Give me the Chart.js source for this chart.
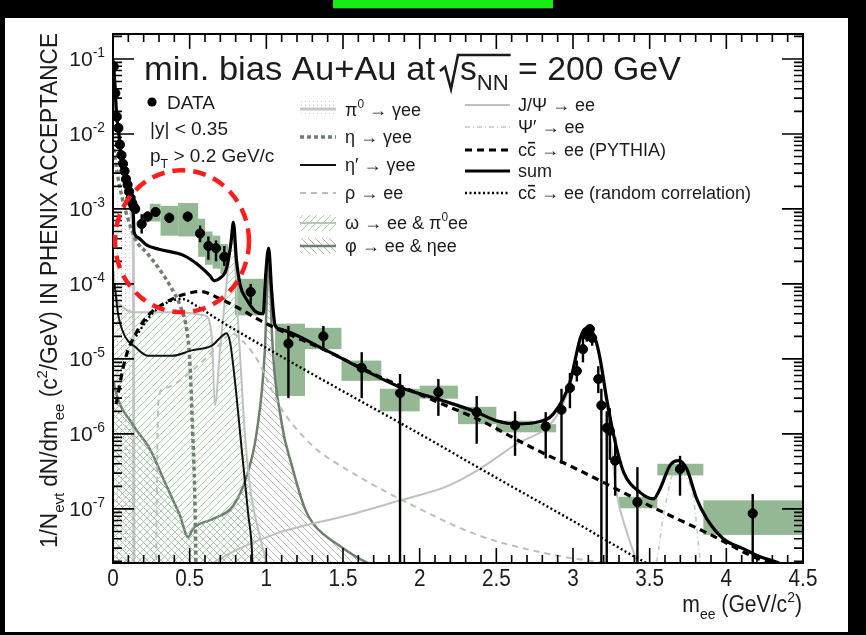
<!DOCTYPE html>
<html>
<head>
<meta charset="utf-8">
<script src="https://cdn.jsdelivr.net/npm/chart.js@4.4.0/dist/chart.umd.min.js"></script>
<style>
	html, body { margin: 0; padding: 0; background: #000; }
	#wrap { position: relative; width: 866px; height: 635px; }
	#topbar { position: absolute; left: 333px; top: 0; width: 220px; height: 8px; background: #14ee14; border-bottom: 1px solid #333; }
</style>
</head>
<body>
<div id="wrap">
	<canvas id="dilepton" width="866" height="635"></canvas>
	<div id="topbar"></div>
</div>
<script>
// measured pairs, mass in GeV/c^2, yield in 1/Nevt dN/dm
const dataMass = [0.005, 0.015, 0.025, 0.035, 0.045, 0.055, 0.065, 0.075, 0.085, 0.095, 0.105, 0.115, 0.125, 0.135, 0.145,
	0.187, 0.226, 0.278, 0.367, 0.487, 0.568, 0.622, 0.672, 0.726, 0.898, 1.144, 1.372, 1.622, 1.872, 2.122, 2.372, 2.622,
	2.822, 2.925, 2.98, 3.025, 3.065, 3.09, 3.11, 3.125, 3.165, 3.185, 3.22, 3.24, 3.275, 3.42, 3.698, 4.172];
const dataYield = [7.9e-2, 3.5e-2, 1.7e-2, 1.2e-2, 7.2e-3, 5.2e-3, 4.0e-3, 3.2e-3, 2.5e-3, 2.1e-3, 1.7e-3, 1.4e-3, 1.2e-3, 1.07e-3, 1.0e-3,
	6.3e-4, 7.9e-4, 9.1e-4, 7.6e-4, 7.9e-4, 4.7e-4, 3.2e-4, 3.0e-4, 2.3e-4, 7.8e-5, 1.6e-5, 2.0e-5, 7.6e-6, 3.5e-6, 3.6e-6, 1.95e-6, 1.3e-6,
	1.26e-6, 2.1e-6, 4.1e-6, 6.9e-6, 1.35e-5, 2.1e-5, 2.5e-5, 1.9e-5, 5.4e-6, 2.4e-6, 1.2e-6, 1.1e-6, 4.4e-7, 1.23e-7, 3.4e-7, 8.7e-8];
const dataErrLow = [7.4e-2, 3.3e-2, 1.6e-2, 1.13e-2, 6.8e-3, 4.9e-3, 3.75e-3, 3.0e-3, 2.35e-3, 1.97e-3, 1.6e-3, 1.31e-3, 1.12e-3, 1.0e-3, 9.3e-4,
	4.7e-4, 6.8e-4, 8.2e-4, 6.5e-4, 6.8e-4, 3.6e-4, 2.1e-4, 2.0e-4, 1.74e-4, 5.4e-5, 3.0e-6, 1.3e-5, 3.0e-6, 1e-9, 1.74e-6, 7.4e-7, 5.1e-7,
	4.7e-7, 4.0e-7, 2.2e-6, 5.0e-6, 9.0e-6, 1.7e-5, 2.1e-5, 1.5e-5, 3.5e-6, 1e-9, 1e-9, 4.5e-7, 1.5e-7, 1e-9, 1.5e-7, 1e-9];
const dataErrHigh = [8.4e-2, 3.7e-2, 1.8e-2, 1.27e-2, 7.6e-3, 5.5e-3, 4.25e-3, 3.4e-3, 2.65e-3, 2.23e-3, 1.8e-3, 1.49e-3, 1.28e-3, 1.14e-3, 1.07e-3,
	8.5e-4, 9.3e-4, 1.0e-3, 8.9e-4, 9.2e-4, 6.0e-4, 4.3e-4, 3.8e-4, 3.2e-4, 1.0e-4, 2.75e-5, 2.75e-5, 1.23e-5, 6.3e-6, 5.4e-6, 3.2e-6, 2.0e-6,
	1.95e-6, 4.0e-6, 6.5e-6, 9.5e-6, 2.0e-5, 2.6e-5, 2.9e-5, 2.3e-5, 8.0e-6, 4.0e-6, 2.0e-6, 2.2e-6, 9.0e-7, 3.6e-7, 5.1e-7, 1.58e-7];

// systematic uncertainty boxes
const sysMassLow = [0.24, 0.31, 0.425, 0.555, 0.6, 0.65, 0.7, 0.795, 1.057, 1.252, 1.49, 1.74, 2.0, 2.25, 2.5, 2.74, 3.3, 3.55, 3.85];
const sysMassHigh = [0.31, 0.425, 0.555, 0.6, 0.65, 0.7, 0.75, 0.98, 1.252, 1.49, 1.75, 2.0, 2.25, 2.5, 2.74, 2.89, 3.55, 3.85, 4.5];
const sysYieldLow = [6.8e-4, 4.4e-4, 4.3e-4, 2.3e-4, 1.8e-4, 1.6e-4, 1.35e-4, 3.8e-5, 3.2e-6, 1.35e-5, 5.1e-6, 2.0e-6, 2.95e-6, 1.35e-6, 1.05e-6, 1.05e-6, 1.02e-7, 2.8e-7, 4.5e-8];
const sysYieldHigh = [1.17e-3, 1.1e-3, 1.2e-3, 7.4e-4, 5.0e-4, 4.4e-4, 3.4e-4, 1.17e-4, 2.95e-5, 2.6e-5, 9.5e-6, 4.0e-6, 4.4e-6, 2.3e-6, 1.5e-6, 1.35e-6, 1.45e-7, 4.0e-7, 1.3e-7];

// cocktail and charm curves
const pi0Mass = [0.002, 0.01, 0.02, 0.04, 0.06, 0.08, 0.1, 0.115, 0.125, 0.131, 0.134, 0.137];
const pi0Yield = [8.9e-2, 5.0e-2, 2.2e-2, 7.9e-3, 4.0e-3, 2.2e-3, 1.4e-3, 1.0e-3, 7.0e-4, 4.0e-4, 5.0e-5, 1e-9];
const etaMass = [0.005, 0.03, 0.06, 0.1, 0.15, 0.22, 0.3, 0.38, 0.44, 0.48, 0.5, 0.52, 0.535, 0.548];
const etaYield = [6.3e-3, 2.8e-3, 1.4e-3, 7.1e-4, 3.8e-4, 2.6e-4, 1.6e-4, 8.9e-5, 5.0e-5, 2.5e-5, 1.0e-5, 1.0e-6, 1.0e-7, 1e-9];
const etaPrimeMass = [0.01, 0.035, 0.078, 0.144, 0.23, 0.383, 0.513, 0.644, 0.709, 0.74, 0.765, 0.796, 0.839, 0.883, 0.905, 0.93];
const etaPrimeYield = [1.0e-4, 3.8e-5, 2.0e-5, 1.45e-5, 1.1e-5, 1.1e-5, 1.3e-5, 1.5e-5, 2.0e-5, 2.2e-5, 1.6e-5, 4.9e-6, 6.3e-7, 8.1e-8, 3.0e-8, 1e-9];
const rhoMass = [0.28, 0.285, 0.3, 0.33, 0.45, 0.6, 0.7, 0.77, 0.85, 0.95, 1.02, 1.09, 1.3, 1.52, 1.96, 2.39, 2.89, 3.3];
const rhoYield = [1e-9, 1.0e-7, 3.2e-6, 4.0e-6, 5.4e-6, 1.0e-5, 1.6e-5, 2.2e-5, 1.7e-5, 9.0e-6, 4.5e-6, 2.3e-6, 7.0e-7, 3.4e-7, 1.1e-7, 4.4e-8, 2.4e-8, 1.8e-8];
const omegaMass = [0.005, 0.013, 0.06, 0.144, 0.383, 0.6, 0.644, 0.665, 0.698, 0.752, 0.782, 0.807, 0.83, 0.86, 0.9, 0.95, 1.0];
const omegaYield = [1.5e-4, 8.5e-5, 5.0e-5, 4.2e-5, 4.2e-5, 3.8e-5, 2.0e-5, 2.4e-6, 1.35e-5, 1.74e-4, 5.6e-4, 6.3e-5, 1.0e-5, 1.0e-6, 1.6e-7, 5.0e-8, 1.95e-8];
const phiMass = [0.005, 0.013, 0.133, 0.24, 0.35, 0.437, 0.49, 0.52, 0.654, 0.784, 0.872, 0.937, 0.99, 1.005, 1.019, 1.035, 1.1, 1.166, 1.252, 1.307, 1.48, 1.65, 1.8];
const phiYield = [5.0e-6, 4.0e-6, 1.3e-6, 6.3e-7, 2.0e-7, 8.1e-8, 4.2e-8, 5.4e-8, 7.4e-8, 1.1e-7, 2.75e-7, 1.05e-6, 1.26e-5, 7.9e-5, 2.5e-4, 2.5e-5, 1.4e-6, 3.8e-7, 1.0e-7, 6.3e-8, 3.2e-8, 1.95e-8, 1.5e-8];
const jpsiMass = [0.65, 0.8, 1.09, 1.25, 1.52, 1.872, 2.177, 2.39, 2.61, 2.894, 2.98, 3.046, 3.1, 3.15, 3.2, 3.24, 3.285, 3.35, 3.42];
const jpsiYield = [1.9e-8, 2.8e-8, 4.9e-8, 6.0e-8, 8.1e-8, 1.3e-7, 2.0e-7, 3.4e-7, 6.9e-7, 1.74e-6, 4.5e-6, 1.66e-5, 2.5e-5, 1.6e-5, 5.0e-6, 1.0e-6, 1.6e-7, 5.0e-8, 1.9e-8];
const psiPrimeMass = [3.546, 3.59, 3.64, 3.677, 3.72, 3.786, 3.83];
const psiPrimeYield = [1.95e-8, 8.1e-8, 2.5e-7, 3.8e-7, 3.0e-7, 1.35e-7, 1.95e-8];
const charmMass = [0.02, 0.08, 0.15, 0.23, 0.3, 0.45, 0.57, 0.7, 0.8, 1.0, 1.4, 1.7, 2.1, 2.4, 2.7, 3.05, 3.5, 3.9, 4.2, 4.3];
const charmYield = [2.5e-6, 1.0e-5, 2.2e-5, 3.8e-5, 5.0e-5, 7.1e-5, 7.9e-5, 6.3e-5, 5.0e-5, 2.95e-5, 1.26e-5, 6.3e-6, 2.75e-6, 1.5e-6, 7.1e-7, 3.2e-7, 1.1e-7, 4.5e-8, 2.2e-8, 1.9e-8];
const charmRandomMass = [0.15, 0.25, 0.35, 0.45, 0.55, 0.7, 1.0, 1.5, 2.0, 2.5, 3.0, 3.42, 3.48];
const charmRandomYield = [2.0e-5, 3.9e-5, 5.6e-5, 6.3e-5, 5.0e-5, 3.2e-5, 1.4e-5, 3.7e-6, 1.0e-6, 2.6e-7, 6.9e-8, 2.2e-8, 1.9e-8];
const sumMass = [0.002, 0.013, 0.024, 0.035, 0.046, 0.067, 0.089, 0.111, 0.125, 0.132, 0.137, 0.16, 0.22, 0.3, 0.46, 0.57,
	0.63, 0.66, 0.7, 0.74, 0.77, 0.785, 0.805, 0.83, 0.87, 0.935, 0.98, 0.995, 1.015, 1.035, 1.057, 1.09, 1.372, 1.622,
	1.872, 2.122, 2.372, 2.5, 2.633, 2.763, 2.872, 2.98, 3.046, 3.075, 3.1, 3.13, 3.155, 3.177, 3.22, 3.275, 3.33, 3.437,
	3.525, 3.568, 3.633, 3.688, 3.742, 3.807, 3.872, 3.98, 4.11, 4.22, 4.33, 4.45];
const sumYield = [9.5e-2, 4.4e-2, 1.7e-2, 1.2e-2, 6.9e-3, 3.8e-3, 2.3e-3, 1.5e-3, 1.2e-3, 9.0e-4, 5.0e-4, 4.2e-4, 3.3e-4, 2.9e-4, 2.4e-4, 1.7e-4,
	1.3e-4, 1.1e-4, 1.2e-4, 1.6e-4, 3.6e-4, 6.6e-4, 2.1e-4, 9.5e-5, 6.3e-5, 4.2e-5, 4.0e-5, 1.26e-4, 3.0e-4, 7.9e-5, 2.8e-5, 2.5e-5, 1.36e-5, 7.4e-6,
	4.2e-6, 2.9e-6, 1.95e-6, 1.5e-6, 1.36e-6, 1.43e-6, 1.85e-6, 4.9e-6, 1.85e-5, 2.5e-5, 2.6e-5, 2.2e-5, 1.6e-5, 1.0e-5, 2.9e-6, 7.8e-7, 3.1e-7, 1.66e-7,
	1.36e-7, 1.86e-7, 3.8e-7, 4.4e-7, 3.4e-7, 1.36e-7, 7.4e-8, 4.0e-8, 2.95e-8, 2.3e-8, 1.95e-8, 1.5e-8];

// axes
const massMin = 0, massMax = 4.5;
const yieldMin = 1.9e-8, yieldMax = 0.215;
const massTickLabels = ["0", "0.5", "1", "1.5", "2", "2.5", "3", "3.5", "4", "4.5"];
const yieldDecades = [-7, -6, -5, -4, -3, -2, -1];
const circleCenter = { mass: 0.45, yield: 3.7e-4 };

const FONT = '"Liberation Sans", Arial, "DejaVu Sans", sans-serif';
const canvas = document.getElementById("dilepton");
const baseCtx = canvas.getContext("2d");

function makePattern(size, draw) {
	const c = document.createElement("canvas");
	c.width = c.height = size;
	draw(c.getContext("2d"), size);
	return baseCtx.createPattern(c, "repeat");
}

function diagonal(g, s, up) {
	g.beginPath();
	if (up) {
		g.moveTo(0, s); g.lineTo(s, 0);
		g.moveTo(-1, 1); g.lineTo(1, -1);
		g.moveTo(s - 1, s + 1); g.lineTo(s + 1, s - 1);
	} else {
		g.moveTo(0, 0); g.lineTo(s, s);
		g.moveTo(s - 1, -1); g.lineTo(s + 1, 1);
		g.moveTo(-1, s - 1); g.lineTo(1, s + 1);
	}
	g.stroke();
}

const omegaHatch = makePattern(7, (g, s) => {
	g.strokeStyle = "rgba(140, 200, 140, 0.75)";
	g.lineWidth = 1;
	diagonal(g, s, true);
});
const phiHatch = makePattern(7, (g, s) => {
	g.strokeStyle = "rgba(150, 155, 150, 0.7)";
	g.lineWidth = 1;
	diagonal(g, s, false);
});
const pi0Dots = makePattern(4, (g) => {
	g.fillStyle = "#c4c4c4";
	g.fillRect(1, 1, 1, 1);
});

function curve(label, xs, ys, style) {
	return Object.assign({
		label,
		data: xs.map((x, i) => ({ x, y: ys[i] })),
		pointRadius: 0,
		borderColor: "#000",
		borderWidth: 2,
		fill: false,
		cubicInterpolationMode: "monotone",
		order: 5,
	}, style);
}

const styles = {
	pi0: { borderColor: "#c6c6c6", borderWidth: 3, fill: "start", backgroundColor: pi0Dots, order: 9 },
	eta: { borderColor: "#6e806e", borderWidth: 3.5, borderDash: [4, 3], order: 6 },
	etaPrime: { borderColor: "#111", borderWidth: 2, order: 5 },
	rho: { borderColor: "#b8c0b8", borderWidth: 2, borderDash: [6, 5], order: 7 },
	omega: { borderColor: "#bcc3bc", borderWidth: 2, fill: "start", backgroundColor: omegaHatch, order: 8 },
	phi: { borderColor: "#6f7f6f", borderWidth: 2.5, fill: "start", backgroundColor: phiHatch, order: 8 },
	jpsi: { borderColor: "#bcc2bc", borderWidth: 2, order: 7 },
	psiPrime: { borderColor: "#b8d0b8", borderWidth: 1.5, borderDash: [5, 3, 1, 3], order: 7 },
	charm: { borderColor: "#000", borderWidth: 3.2, borderDash: [7, 5], order: 3 },
	charmRandom: { borderColor: "#000", borderWidth: 2.4, borderDash: [2, 2.5], order: 4 },
	sum: { borderColor: "#000", borderWidth: 3.2, order: 2 },
};

const datasets = [
	{
		label: "DATA",
		data: dataMass.map((x, i) => ({ x, y: dataYield[i] })),
		showLine: false,
		pointRadius: 4.6,
		pointBackgroundColor: "#000",
		pointBorderColor: "#000",
		order: 0,
	},
	curve("sum", sumMass, sumYield, styles.sum),
	curve("cc pythia", charmMass, charmYield, styles.charm),
	curve("cc random", charmRandomMass, charmRandomYield, styles.charmRandom),
	curve("eta prime", etaPrimeMass, etaPrimeYield, styles.etaPrime),
	curve("eta", etaMass, etaYield, styles.eta),
	curve("rho", rhoMass, rhoYield, styles.rho),
	curve("jpsi", jpsiMass, jpsiYield, styles.jpsi),
	curve("psi prime", psiPrimeMass, psiPrimeYield, styles.psiPrime),
	curve("omega", omegaMass, omegaYield, styles.omega),
	curve("phi", phiMass, phiYield, styles.phi),
	curve("pi0", pi0Mass, pi0Yield, styles.pi0),
];

// text with sub/superscripts and overlines, returns the end x
function drawRich(ctx, segs, x, y, size, opts = {}) {
	const measure = segs.map((s) => {
		const sz = s.sub || s.sup ? size * 0.66 : size;
		ctx.font = `${sz}px ${FONT}`;
		return { s, sz, w: ctx.measureText(s.t).width };
	});
	const natural = measure.reduce((a, p) => a + p.w, 0);
	const hs = opts.width ? opts.width / natural : opts.hs || 1;
	const total = natural * hs;
	let cx = x;
	if (opts.align === "right") cx = x - total;
	else if (opts.align === "center") cx = x - total / 2;
	ctx.fillStyle = opts.color || "#1b1b1b";
	ctx.textAlign = "left";
	ctx.textBaseline = "alphabetic";
	measure.forEach(({ s, sz, w }) => {
		const dy = s.sub ? size * 0.3 : s.sup ? -size * 0.42 : 0;
		ctx.save();
		ctx.translate(cx, y + dy);
		ctx.scale(hs, 1);
		ctx.font = `${sz}px ${FONT}`;
		ctx.fillText(s.t, 0, 0);
		ctx.restore();
		if (s.bar) {
			ctx.save();
			ctx.strokeStyle = ctx.fillStyle;
			ctx.lineWidth = Math.max(1.5, size * 0.09);
			ctx.beginPath();
			ctx.moveTo(cx + 1, y - size * 0.74);
			ctx.lineTo(cx + w * hs - 1, y - size * 0.74);
			ctx.stroke();
			ctx.restore();
		}
		cx += w * hs;
	});
	return cx;
}

function sampleLine(ctx, style, x0, x1, y) {
	ctx.save();
	ctx.strokeStyle = style.borderColor;
	ctx.lineWidth = style.borderWidth;
	ctx.setLineDash(style.borderDash || []);
	ctx.beginPath();
	ctx.moveTo(x0, y);
	ctx.lineTo(x1, y);
	ctx.stroke();
	ctx.restore();
}

function sampleBox(ctx, pattern, x0, x1, y) {
	ctx.save();
	ctx.fillStyle = pattern;
	ctx.fillRect(x0, y - 8, x1 - x0, 16);
	ctx.restore();
}

const physicsFrame = {
	id: "physicsFrame",
	beforeDraw(chart) {
		const { ctx } = chart;
		ctx.save();
		ctx.fillStyle = "#000";
		ctx.fillRect(0, 0, chart.width, chart.height);
		ctx.fillStyle = "#fff";
		ctx.fillRect(5, 18, 843, 614);
		ctx.restore();
	},
	beforeDatasetsDraw(chart) {
		const { ctx, chartArea: a, scales: { x, y } } = chart;
		ctx.save();
		ctx.beginPath();
		ctx.rect(a.left, a.top, a.right - a.left, a.bottom - a.top);
		ctx.clip();
		ctx.fillStyle = "#93b893";
		sysMassLow.forEach((m, i) => {
			const x0 = x.getPixelForValue(m);
			const x1 = x.getPixelForValue(sysMassHigh[i]);
			const y0 = y.getPixelForValue(sysYieldHigh[i]);
			const y1 = y.getPixelForValue(sysYieldLow[i]);
			ctx.fillRect(x0, y0, x1 - x0, y1 - y0);
		});
		ctx.restore();
	},
	afterDatasetsDraw(chart) {
		const { ctx, chartArea: a, scales: { x, y } } = chart;

		// statistical error bars
		ctx.save();
		ctx.beginPath();
		ctx.rect(a.left, a.top, a.right - a.left, a.bottom - a.top);
		ctx.clip();
		ctx.strokeStyle = "#000";
		ctx.lineWidth = 2.4;
		dataMass.forEach((m, i) => {
			const px = x.getPixelForValue(m);
			ctx.beginPath();
			ctx.moveTo(px, y.getPixelForValue(dataErrLow[i]));
			ctx.lineTo(px, y.getPixelForValue(dataErrHigh[i]));
			ctx.stroke();
		});
		ctx.restore();

		// frame and inward ticks
		ctx.save();
		ctx.strokeStyle = "#000";
		ctx.lineWidth = 2;
		ctx.strokeRect(a.left, a.top, a.right - a.left, a.bottom - a.top);
		ctx.lineWidth = 1.6;
		ctx.beginPath();
		for (let i = 0; i <= 45; i++) {
			const px = x.getPixelForValue(i / 10);
			const len = i % 5 === 0 ? 15 : 8;
			ctx.moveTo(px, a.bottom);
			ctx.lineTo(px, a.bottom - len);
			ctx.moveTo(px, a.top);
			ctx.lineTo(px, a.top + len);
		}
		for (let d = -8; d <= -1; d++) {
			for (let k = 1; k <= 9; k++) {
				const v = k * Math.pow(10, d);
				if (v < yieldMin || v > yieldMax) continue;
				const py = y.getPixelForValue(v);
				const len = k === 1 ? 21 : 9;
				ctx.moveTo(a.left, py);
				ctx.lineTo(a.left + len, py);
				ctx.moveTo(a.right, py);
				ctx.lineTo(a.right - len, py);
			}
		}
		ctx.stroke();
		ctx.restore();

		// tick labels
		massTickLabels.forEach((label) => {
			drawRich(ctx, [{ t: label }], x.getPixelForValue(Number(label)), 586, 23, { align: "center", hs: 0.9 });
		});
		yieldDecades.forEach((d) => {
			const py = y.getPixelForValue(Math.pow(10, d));
			drawRich(ctx, [{ t: "10" }, { t: String(d), sup: true }], 105, py + 7, 21, { align: "right", hs: 1.0 });
		});

		// axis titles
		drawRich(ctx, [{ t: "m" }, { t: "ee", sub: true }, { t: " (GeV/c" }, { t: "2", sup: true }, { t: ")" }], 802, 612, 23,
			{ align: "right", hs: 0.92 });
		ctx.save();
		ctx.translate(57, 548);
		ctx.rotate(-Math.PI / 2);
		drawRich(ctx, [{ t: "1/N" }, { t: "evt", sub: true }, { t: " dN/dm" }, { t: "ee", sub: true },
			{ t: " (c" }, { t: "2", sup: true }, { t: "/GeV) IN PHENIX ACCEPTANCE" }], 0, 0, 23, { width: 515 });
		ctx.restore();

		// collision system
		const tx = drawRich(ctx, [{ t: "min. bias Au+Au at" }], 144, 80, 33.5, { width: 291 });
		const rx = tx + 5;
		const sEnd = drawRich(ctx, [{ t: "s" }, { t: "NN", sub: true }], rx + 20, 80, 33.5, { hs: 1 });
		ctx.save();
		ctx.strokeStyle = "#1b1b1b";
		ctx.lineWidth = 2.6;
		ctx.lineJoin = "miter";
		ctx.beginPath();
		ctx.moveTo(rx, 71);
		ctx.lineTo(rx + 5, 67);
		ctx.lineTo(rx + 11, 89);
		ctx.lineTo(rx + 18, 55);
		ctx.lineTo(sEnd + 2, 55);
		ctx.stroke();
		ctx.restore();
		drawRich(ctx, [{ t: " = 200 GeV" }], sEnd, 80, 33.5, { width: 172 });

		// legend, first column
		ctx.save();
		ctx.fillStyle = "#000";
		ctx.beginPath();
		ctx.arc(152, 102, 4.6, 0, Math.PI * 2);
		ctx.fill();
		ctx.restore();
		drawRich(ctx, [{ t: "DATA" }], 167, 109, 19);
		drawRich(ctx, [{ t: "|y| < 0.35" }], 150, 135, 19);
		drawRich(ctx, [{ t: "p" }, { t: "T", sub: true }, { t: " > 0.2 GeV/c" }], 150, 162, 19);

		// legend, meson decays
		const c2 = [300, 336, 345];
		sampleBox(ctx, pi0Dots, c2[0], c2[1], 109);
		sampleLine(ctx, styles.pi0, c2[0], c2[1], 109);
		drawRich(ctx, [{ t: "π" }, { t: "0", sup: true }, { t: " → γee" }], c2[2], 116, 18);
		sampleLine(ctx, styles.eta, c2[0], c2[1], 137);
		drawRich(ctx, [{ t: "η → γee" }], c2[2], 143, 18);
		sampleLine(ctx, styles.etaPrime, c2[0], c2[1], 165);
		drawRich(ctx, [{ t: "η′ → γee" }], c2[2], 171, 18);
		sampleLine(ctx, styles.rho, c2[0], c2[1], 193);
		drawRich(ctx, [{ t: "ρ → ee" }], c2[2], 199, 18);
		sampleBox(ctx, omegaHatch, c2[0], c2[1], 223);
		sampleLine(ctx, styles.omega, c2[0], c2[1], 223);
		drawRich(ctx, [{ t: "ω → ee & π" }, { t: "0", sup: true }, { t: "ee" }], c2[2], 229, 18);
		sampleBox(ctx, phiHatch, c2[0], c2[1], 246);
		sampleLine(ctx, styles.phi, c2[0], c2[1], 246);
		drawRich(ctx, [{ t: "φ → ee & ηee" }], c2[2], 252, 18);

		// legend, charmonium and charm
		const c3 = [465, 510, 518];
		sampleLine(ctx, styles.jpsi, c3[0], c3[1], 105);
		drawRich(ctx, [{ t: "J/Ψ → ee" }], c3[2], 111, 18);
		sampleLine(ctx, styles.psiPrime, c3[0], c3[1], 127);
		drawRich(ctx, [{ t: "Ψ′ → ee" }], c3[2], 133, 18);
		sampleLine(ctx, styles.charm, c3[0], c3[1], 150);
		drawRich(ctx, [{ t: "c" }, { t: "c", bar: true }, { t: " → ee (PYTHIA)" }], c3[2], 156, 18);
		sampleLine(ctx, styles.sum, c3[0], c3[1], 171);
		drawRich(ctx, [{ t: "sum" }], c3[2], 177, 18);
		sampleLine(ctx, styles.charmRandom, c3[0], c3[1], 193);
		drawRich(ctx, [{ t: "c" }, { t: "c", bar: true }, { t: " → ee (random correlation)" }], c3[2], 199, 18);
	},
	afterDraw(chart) {
		const { ctx, scales: { x, y } } = chart;
		ctx.save();
		ctx.strokeStyle = "#ff1c1c";
		ctx.lineWidth = 4.5;
		ctx.setLineDash([13, 8]);
		ctx.beginPath();
		ctx.ellipse(x.getPixelForValue(circleCenter.mass), y.getPixelForValue(circleCenter.yield), 67, 71, 0, 0, Math.PI * 2);
		ctx.stroke();
		ctx.restore();
	},
};

new Chart(canvas, {
	type: "line",
	data: { datasets },
	options: {
		responsive: false,
		animation: false,
		events: [],
		layout: { padding: { left: 113, right: 63, top: 34, bottom: 72 } },
		plugins: { legend: { display: false }, tooltip: { enabled: false } },
		scales: {
			x: { type: "linear", min: massMin, max: massMax, display: false },
			y: { type: "logarithmic", min: yieldMin, max: yieldMax, display: false },
		},
	},
	plugins: [physicsFrame],
});
</script>
</body>
</html>
